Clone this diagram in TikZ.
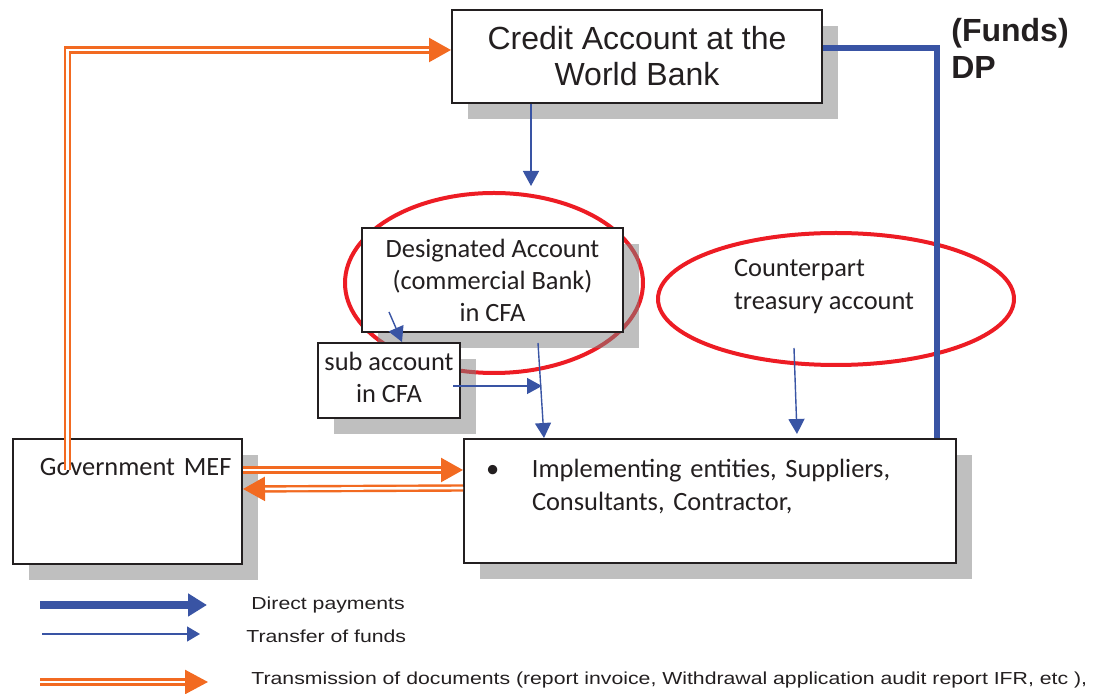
\documentclass[tikz,border=0pt]{standalone}
\usepackage{fontspec}
\setmainfont{Carlito}
\newfontfamily\arialfont{Liberation Sans}
\newfontfamily\legendfont[FakeStretch=1.22]{Liberation Sans}
\usepackage{tikz}
\usetikzlibrary{arrows.meta, shapes.geometric, shadows}
\definecolor{ink}{RGB}{35,31,32}
\definecolor{docorange}{RGB}{242,106,33}
\definecolor{fundsblue}{RGB}{57,84,164}
\definecolor{ringred}{RGB}{237,28,36}
\tikzset{
    box/.style={rectangle, draw=ink, line width=1pt, fill=white, text=ink, align=center,
        font=\fontsize{13.2}{16}\selectfont,
        drop shadow={shadow xshift=8pt, shadow yshift=-8pt, fill=black!50, opacity=0.5}},
    ring/.style={ellipse, draw=ringred, line width=2pt, text=ink},
    tf/.style={draw=fundsblue, line width=0.7pt, -{Triangle[length=7.5pt, width=8pt]}},
    dp/.style={draw=fundsblue, line width=3pt},
    doc/.style={draw=docorange, line width=1.2pt, double=white, double distance=1.3pt,
        -{Triangle[length=11pt, width=12pt, fill=docorange]}},
    legend/.style={anchor=west, inner sep=0pt, text=ink, font=\legendfont\fontsize{8.7}{10}\selectfont}
}

\begin{document}
\begin{tikzpicture}[x=0.5pt, y=-0.5pt]
    \useasboundingbox (0,0) rectangle (1093,694);

    \node (credit) at (637,56.5) [box, minimum width=185pt, minimum height=46.5pt,
        font=\arialfont\fontsize{16}{18}\selectfont] {Credit Account at the\\World Bank};
    \node (fundsdp) at (1010,48.5) [align=left, inner sep=0pt, text=ink,
        font=\arialfont\bfseries\fontsize{16}{18.5}\selectfont] {(Funds)\\DP};

    \node (desring) at (494,283) [ring, minimum width=149pt, minimum height=90pt] {};
    \node (designated) at (492.5,280) [box, minimum width=130.5pt, minimum height=52pt]
        {Designated Account\\(commercial Bank)\\in CFA};
    \node (subacc) at (389,380.5) [box, minimum width=71pt, minimum height=37.5pt, text depth=3pt] {sub account\\in CFA};
    \node (counterpart) at (836,299) [ring, minimum width=178pt, minimum height=66pt, inner sep=0pt,
        align=left, font=\fontsize{13.2}{16.5}\selectfont, text height=13pt, text depth=2.6pt]
        {Counterpart\\treasury account\hspace*{12pt}};

    \node (gov) at (12,438) [box, anchor=north west, align=left, inner xsep=5.25pt, inner ysep=9.2pt,
        text width=104pt, text height=9pt, text depth=35.1pt] {\hspace*{8.25pt}\mbox{Government MEF}};
    \node (impl) at (463,438) [box, anchor=north west, align=left, inner xsep=11pt, inner ysep=10.2pt,
        text width=224pt, text height=9pt, text depth=32.6pt, font=\fontsize{13.2}{16.5}\selectfont]
        {\makebox[23pt][l]{\textbullet}Implementing entities, Suppliers,\\\hspace*{23pt}Consultants, Contractor,};

    % funds
    \draw[dp] ([yshift=4.25pt]credit.east) -| ([xshift=-10pt]impl.north east);
    \draw[tf, shorten >=2.5pt] ([xshift=-53pt]credit.south) -- ([xshift=-53pt]credit.south |- desring.north);
    \draw[tf] ([xshift=14pt,yshift=10.5pt]designated.south west) -- ([xshift=6.5pt]subacc.north);
    \draw[tf] ([xshift=22.75pt,yshift=-5pt]designated.south) -- ([xshift=-83pt]impl.north);
    \coordinate (join) at (542,386);
    \draw[tf] ([xshift=-4pt,yshift=-2.75pt]subacc.east) -- (join);
    \draw[tf] ([xshift=-21pt,yshift=9.5pt]counterpart.south) -- ([xshift=43.5pt,yshift=2pt]impl.north);

    % documents
    \draw[doc] ([xshift=27.75pt,yshift=-16pt]gov.north west) |- ([yshift=3.25pt]credit.west);
    \draw[doc] ([yshift=15.75pt]gov.east) -- ([yshift=15.5pt]impl.west);
    \draw[doc] ([yshift=6.5pt]impl.west) -- ([yshift=6.25pt]gov.east);

    % legend
    \node (legdp) at (251,605) [legend] {Direct payments};
    \node (legtf) at (246,636) [legend] {Transfer of funds};
    \node (legdoc) at (251,680) [legend] {Transmission of documents (report invoice, Withdrawal application audit report IFR, etc ),};
    \coordinate (dpfrom) at (40,605);
    \coordinate (tffrom) at (42,634);
    \coordinate (docfrom) at (40,682);
    \draw[dp, line width=4pt, -{Triangle[length=9.5pt, width=11pt]}] (dpfrom) -- ([xshift=-22pt]legdp.west);
    \draw[tf, -{Triangle[length=6.5pt, width=7.5pt]}] (tffrom) -- ([xshift=-23pt,yshift=1pt]legtf.west);
    \draw[doc, -{Triangle[length=11.5pt, width=12pt, fill=docorange]}] (docfrom) -- ([xshift=-21.5pt,yshift=-1pt]legdoc.west);
\end{tikzpicture}
\end{document}
